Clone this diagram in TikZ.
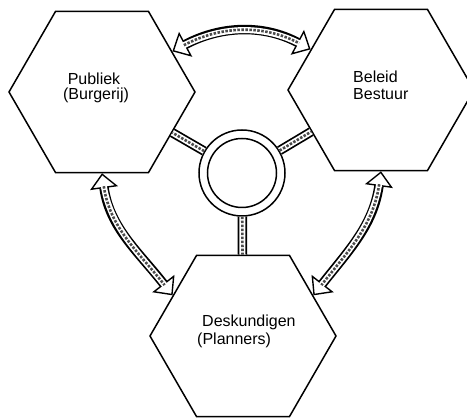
\documentclass[tikz,border=0pt]{standalone}
\usepackage{fontspec}
\setmainfont{Liberation Sans}
\usetikzlibrary{arrows.meta,shapes.geometric}
\begin{document}
\begin{tikzpicture}[x=1pt,y=1pt,
 hexa/.style={draw, regular polygon, regular polygon sides=6, minimum size=186pt, inner sep=0pt, line width=1.5pt},
 ring/.style={draw, circle, inner sep=0pt, line width=1.5pt},
 lbl/.style={font=\fontsize{16}{18}\selectfont, inner sep=0pt},
 hd/.tip={Triangle[fill=white, length=15pt, width=28pt, line width=1.4pt]},
 band/.style={line width=9.5pt, postaction={draw=white, line width=6pt}, postaction={draw=black!70, line width=2.6pt, dash pattern=on 2.5pt off 1.5pt}},
 bandarrow/.style={line width=9.5pt, hd-hd, postaction={draw=white, line width=6pt, -, shorten >=10pt, shorten <=10pt}, postaction={draw=black!70, line width=2.6pt, -, dash pattern=on 2.5pt off 1.5pt, shorten >=13pt, shorten <=13pt}}
]
\useasboundingbox (0,0) rectangle (467,419);
\node[hexa] (L) at (102,327) {};
\node[hexa] (R) at (381,329) {};
\node[hexa] (B) at (243,83) {};
\node[ring, minimum size=86pt] (C) at (242,246) {};
\node[ring, minimum size=69pt] (Ci) at (C) {};

\draw[band] (C) -- (L);
\draw[band] (C) -- (R);
\draw[band] (C) -- (B);

\draw[bandarrow] (L.30) to[out=28, in=152] (R.150);
\draw[bandarrow] (L.-90) to[out=-82, in=128] (B.150);
\draw[bandarrow] (R.-90) to[out=-98, in=52] (B.30);

\node[lbl, anchor=base] (t1) at (94,334) {Publiek};
\node[lbl, anchor=base] (t2) at (96,319) {(Burgerij)};
\node[lbl, anchor=base west] (t3) at (353,336) {Beleid};
\node[lbl, anchor=base west] (t4) at (353,319) {Bestuur};
\node[lbl, anchor=base west] (t5) at (202,92) {Deskundigen};
\node[lbl, anchor=base west] (t6) at (197,74) {(Planners)};
\end{tikzpicture}
\end{document}
